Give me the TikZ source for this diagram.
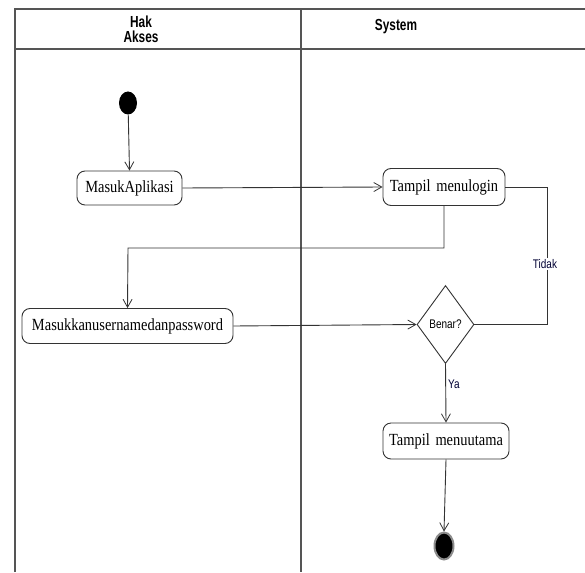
\documentclass[tikz,border=0pt]{standalone}
\usepackage{fontspec}
\usetikzlibrary{shapes.geometric,arrows.meta}
\newfontfamily\hdrfont[FakeStretch=0.74]{Liberation Sans}
\newfontfamily\lblfont[FakeStretch=0.8]{Liberation Sans}
\newfontfamily\actfont[FakeStretch=0.85]{Liberation Serif}
\definecolor{lanec}{HTML}{555555}
\definecolor{linec}{HTML}{333333}
\tikzset{
  lane/.style={draw=lanec,line width=1.4pt},
  act/.style={draw=linec,line width=0.9pt,rounded corners=8pt,fill=white,inner sep=0pt,
    font=\actfont\fontsize{17}{17}\selectfont},
  dec/.style={draw=linec,line width=0.9pt,diamond,inner sep=0pt,fill=white,
    minimum width=57pt,minimum height=78pt,font=\lblfont\fontsize{12.5}{12}\selectfont},
  flow/.style={draw=linec,line width=0.9pt},
  arr/.style={flow,-{Straight Barb[length=8pt,width=9pt,line width=0.8pt]}},
  hdr/.style={font=\hdrfont\bfseries\fontsize{16}{15.5}\selectfont,align=center,inner sep=0pt},
  lbl/.style={font=\lblfont\fontsize{12.5}{12}\selectfont,inner sep=1pt,text=black!80!blue}
}
\begin{document}
\begin{tikzpicture}[x=1pt,y=-1pt]
\useasboundingbox (0,0) rectangle (585,572);
% swimlanes
\draw[lane] (15,572) -- (15,9) -- (585,9);
\draw[lane] (15,49) -- (585,49);
\draw[lane] (301,9) -- (301,572);
\node[hdr] (h1) at (141,29.5) {Hak\\Akses};
\node[hdr] (h2) at (396,27) {System};
% nodes
\node[fill=black,ellipse,minimum width=18pt,minimum height=23pt,inner sep=0pt] (start) at (128,103) {};
\node[act,minimum width=105pt,minimum height=34pt] (masuk) at (129.5,188) {MasukAplikasi};
\node[act,minimum width=122pt,minimum height=37pt] (login) at (444,187) {Tampil\,\,menulogin};
\node[act,minimum width=211pt,minimum height=35pt] (masukkan) at (127.5,326) {Masukkanusernamedanpassword};
\node[dec] (dia) at (445.5,324.5) {Benar?};
\node[act,minimum width=126pt,minimum height=36pt] (utama) at (446,441) {Tampil\,\,menuutama};
\node[ellipse,fill=black,draw=black!45,line width=2pt,minimum width=19pt,minimum height=27pt,inner sep=0pt] (end) at (444,546) {};
% connectors
\coordinate (c1) at (128,248);
\draw[arr] (start) -- (masuk.north);
\draw[arr] (masuk.east) -- (login.west);
\draw[arr] (login.south) |- (c1) -- (masukkan.north);
\draw[arr] (masukkan.east) -- (dia.west);
\node[lbl] (tidak) at (545,264) {Tidak};
\draw[flow] (dia.east) -| ([xshift=2pt]tidak.south);
\draw[flow] ([xshift=2pt]tidak.north) |- (login.east);
\draw[arr] (dia.south) -- node[lbl,right,pos=0.35,xshift=1pt] (ya) {Ya} (utama.north);
\draw[arr] (utama.south) -- (end.north);
\end{tikzpicture}
\end{document}
